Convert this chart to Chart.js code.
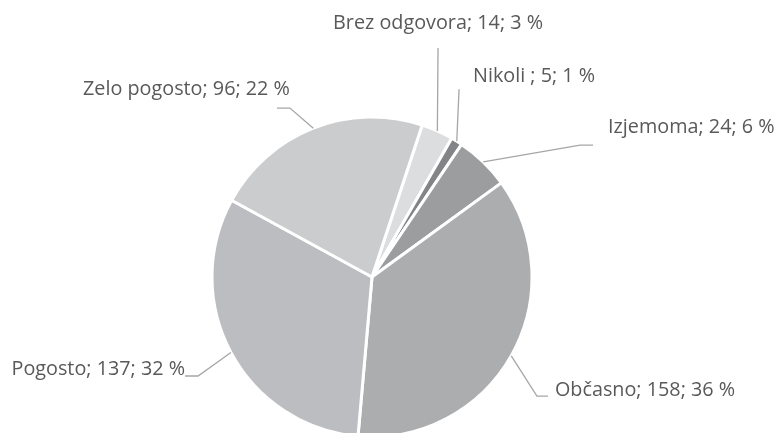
<!DOCTYPE html>
<html><head><meta charset="utf-8">
<script src="https://cdn.jsdelivr.net/npm/chart.js@4.4.1/dist/chart.umd.min.js"></script>
<style>html,body{margin:0;padding:0;background:#fff;overflow:hidden;}canvas{display:block;}</style>
</head><body>
<canvas id="c" width="778" height="433"></canvas>
<script>
// ---- data ----
const categories = ["Brez odgovora", "Nikoli ", "Izjemoma", "Občasno", "Pogosto", "Zelo pogosto"];
const counts = [14, 5, 24, 158, 137, 96];
const percents = [3, 1, 6, 36, 32, 22];

// ---- styles ----
const sliceColors = ["#dcdddf", "#838487", "#9c9d9f", "#acadaf", "#bcbdc0", "#cbcccd"];
// leader/label placement relative to each slice's outer-edge midpoint
const labelPlacement = [
  {ex: 0.7,  ey: -83,  h: 0,   tx: 0,  ty: -19, align: "center"},
  {ex: 2.3,  ey: -52,  h: 0,   tx: 14, ty: -7,  align: "left"},
  {ex: 96.9, ey: -16.8,h: 13,  tx: 15, ty: -12, align: "left"},
  {ex: 25.7, ey: 40.3, h: 11,  tx: 7,  ty: 0,   align: "left"},
  {ex: -32.9,ey: 23.5, h: -13, tx: 0,  ty: -1,  align: "right"},
  {ex: -23.4,ey: -20.1,h: -13, tx: 13, ty: -13, align: "right"}
];

const labelPlugin = {
  id: "leaderLabels",
  afterDatasetsDraw(chart) {
    const ctx = chart.ctx;
    const meta = chart.getDatasetMeta(0);
    ctx.save();
    meta.data.forEach((arc, i) => {
      const p = arc.getProps(["x", "y", "startAngle", "endAngle", "outerRadius"], true);
      const mid = (p.startAngle + p.endAngle) / 2;
      const sx = p.x + Math.cos(mid) * p.outerRadius;
      const sy = p.y + Math.sin(mid) * p.outerRadius;
      const pl = labelPlacement[i];
      const bx = sx + pl.ex, by = sy + pl.ey;
      const ax = bx + pl.h, ay = by;
      ctx.strokeStyle = "#a6a6a6";
      ctx.lineWidth = 1.3;
      ctx.beginPath();
      ctx.moveTo(sx, sy);
      ctx.lineTo(bx, by);
      if (pl.h !== 0) ctx.lineTo(ax, ay);
      ctx.stroke();
      ctx.fillStyle = "#595959";
      ctx.font = "19.8px 'Open Sans'";
      ctx.textAlign = pl.align;
      ctx.textBaseline = "alphabetic";
      const txt = categories[i] + "; " + counts[i] + "; " + percents[i] + " %";
      ctx.fillText(txt, ax + pl.tx, ay + pl.ty);
    });
    ctx.restore();
  }
};

new Chart(document.getElementById("c"), {
  type: "pie",
  data: {
    labels: categories,
    datasets: [{
      data: counts,
      backgroundColor: sliceColors,
      borderColor: "#ffffff",
      borderWidth: 3,
      radius: 160,
      clip: false
    }]
  },
  options: {
    responsive: false,
    animation: false,
    rotation: 18.3,
    layout: {padding: {left: 0, right: 34, top: 121, bottom: 0}},
    plugins: {legend: {display: false}, tooltip: {enabled: false}}
  },
  plugins: [labelPlugin]
});
</script>
</body></html>
